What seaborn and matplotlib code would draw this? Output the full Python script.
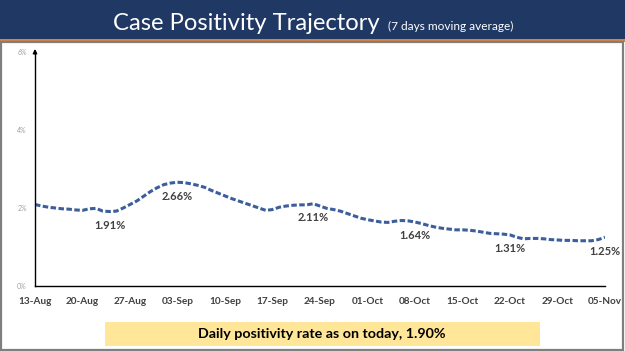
import numpy as np
import pandas as pd
import matplotlib
matplotlib.use("Agg")
import matplotlib.pyplot as plt
from matplotlib.patches import Rectangle
import seaborn as sns

# ---- data (7-day moving average case positivity, %) ----
start_date = "2020-08-13"
positivity = [
    2.09, 2.05, 2.02, 2.00, 1.98, 1.97, 1.95,   # 13-Aug ..
    1.94, 1.98, 1.99, 1.92, 1.91, 1.92, 2.00,   # 20-Aug ..
    2.09, 2.18, 2.30, 2.42, 2.52, 2.60, 2.64,   # 27-Aug ..
    2.66, 2.65, 2.62, 2.58, 2.53, 2.45, 2.38,   # 03-Sep ..
    2.31, 2.24, 2.18, 2.12, 2.06, 2.00, 1.94,   # 10-Sep ..
    1.96, 2.02, 2.05, 2.07, 2.08, 2.08, 2.11,   # 17-Sep ..
    2.05, 1.99, 1.96, 1.92, 1.86, 1.80, 1.74,   # 24-Sep ..
    1.70, 1.67, 1.64, 1.63, 1.66, 1.68, 1.67,   # 01-Oct ..
    1.64, 1.60, 1.55, 1.51, 1.48, 1.46, 1.44,   # 08-Oct ..
    1.44, 1.43, 1.41, 1.38, 1.35, 1.34, 1.33,   # 15-Oct ..
    1.31, 1.25, 1.21, 1.22, 1.22, 1.21, 1.19,   # 22-Oct ..
    1.18, 1.17, 1.17, 1.16, 1.16, 1.16, 1.19,   # 29-Oct ..
    1.25,                                        # 05-Nov
]
label_dates = ["2020-08-24", "2020-09-03", "2020-09-23", "2020-10-08", "2020-10-22", "2020-11-05"]
label_texts = ["1.91%", "2.66%", "2.11%", "1.64%", "1.31%", "1.25%"]
tick_dates = ["2020-08-13", "2020-08-20", "2020-08-27", "2020-09-03", "2020-09-10", "2020-09-17",
              "2020-09-24", "2020-10-01", "2020-10-08", "2020-10-15", "2020-10-22", "2020-10-29",
              "2020-11-05"]
tick_labels = ["13-Aug", "20-Aug", "27-Aug", "03-Sep", "10-Sep", "17-Sep", "24-Sep",
               "01-Oct", "08-Oct", "15-Oct", "22-Oct", "29-Oct", "05-Nov"]
y_ticks = [0, 2, 4, 6]
y_tick_labels = ["0%", "2%", "4%", "6%"]
title_main = "Case Positivity Trajectory"
title_sub = "(7 days moving average)"
footer_text = "Daily positivity rate as on today, 1.90%"

dates = pd.date_range(start_date, periods=len(positivity), freq="D")
df = pd.DataFrame({"date": dates, "value": positivity})

sns.set_style("white")
plt.rcParams["font.family"] = ["Lato", "DejaVu Sans"]

W, H = 625, 351
fig = plt.figure(figsize=(W / 100, H / 100), dpi=100)
fig.patch.set_facecolor("white")

# title band
fig.patches.append(Rectangle((0, 1 - 39 / H), 1, 39 / H, transform=fig.transFigure,
                             facecolor="#203864", edgecolor="none", zorder=0))
fig.patches.append(Rectangle((0, 1 - 42 / H), 1, 2.5 / H, transform=fig.transFigure,
                             facecolor="#D9823B", edgecolor="none", zorder=0))
# gray frame around content
fig.patches.append(Rectangle((1 / W, 1.5 / H), 1 - 3.5 / W, 1 - 43 / H, transform=fig.transFigure,
                             facecolor="none", edgecolor="#7f7f7f", lw=1.6, zorder=5))

fig.text(113 / W, 1 - 30 / H, title_main, color="white", fontsize=17.2,
         ha="left", va="baseline")
fig.text(388 / W, 1 - 30 / H, title_sub, color="white", fontsize=8.6,
         ha="left", va="baseline")

ax = fig.add_axes([35 / W, 1 - 286 / H, 570 / W, 234 / H])
sns.lineplot(data=df, x="date", y="value", ax=ax, color="#3D5E9C", lw=2.2,
             linestyle=(0, (1.8, 0.8)))

ax.set_ylim(0, 6)
ax.set_xlim(dates[0], dates[-1])
ax.set_xticks(pd.to_datetime(tick_dates))
ax.set_xticklabels(tick_labels, fontsize=7.2, fontweight="bold", color="#404040")
ax.set_yticks(y_ticks)
ax.set_yticklabels(y_tick_labels, fontsize=5, color="#a0a0a0")
ax.set_xlabel("")
ax.set_ylabel("")
for s in ["top", "right"]:
    ax.spines[s].set_visible(False)
for s in ["left", "bottom"]:
    ax.spines[s].set_color("black")
    ax.spines[s].set_linewidth(1.0)
ax.tick_params(axis="x", direction="out", length=3, width=0.8, color="black", pad=5)
ax.tick_params(axis="y", length=0, pad=6)
ax.patch.set_alpha(0)

# arrow head on the y axis
ax.annotate("", xy=(0, 1.025), xytext=(0, 0.98), xycoords="axes fraction",
            arrowprops=dict(arrowstyle="-|>", color="black", lw=1.0, mutation_scale=6))

val_by_date = dict(zip(df["date"], df["value"]))
for d, t in zip(label_dates, label_texts):
    dt = pd.Timestamp(d)
    ax.annotate(t, xy=(dt, val_by_date[dt]), xytext=(0, -10), textcoords="offset points",
                ha="center", va="center", fontsize=8, fontweight="bold", color="#404040")

# footer box
fig.patches.append(Rectangle((105 / W, 1 - 346 / H), 435 / W, 24 / H, transform=fig.transFigure,
                             facecolor="#FFE699", edgecolor="none", zorder=1))
fig.text(322 / W, 1 - 334 / H, footer_text, fontsize=10.3, fontweight="bold",
         color="black", ha="center", va="center", zorder=2)

fig.savefig("out.png", dpi=100)
